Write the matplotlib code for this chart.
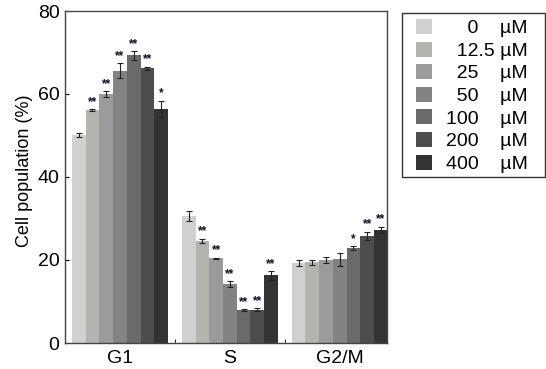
import matplotlib
matplotlib.use('Agg')
import matplotlib.pyplot as plt
from matplotlib.patches import Rectangle
import numpy as np

plt.rcParams['font.family'] = ['Liberation Sans', 'DejaVu Sans']

phases = ['G1', 'S', 'G2/M']
doses = ['0', '12.5', '25', '50', '100', '200', '400']
# padded so the numbers and the unit line up like the original legend
dose_labels = ['    0    \u00b5M', '  12.5 \u00b5M', '  25    \u00b5M', '  50    \u00b5M',
               '100    \u00b5M', '200    \u00b5M', '400    \u00b5M']
colors = ['#d0d0d0', '#b3b3b0', '#9b9b9b', '#838383', '#6a6a6a', '#4d4d4d', '#333333']

# rows = dose, columns = phase
means = [
    [50.2, 30.6, 19.3],
    [56.2, 24.6, 19.5],
    [60.0, 20.4, 20.0],
    [65.6, 14.2, 20.2],
    [69.3, 8.0, 22.8],
    [66.2, 8.0, 25.8],
    [56.4, 16.3, 27.3],
]
errs = [
    [0.5, 1.2, 0.8],
    [0.2, 0.5, 0.6],
    [0.7, 0.2, 0.7],
    [1.8, 0.7, 1.6],
    [1.0, 0.2, 0.5],
    [0.4, 0.4, 1.0],
    [2.0, 1.0, 0.7],
]
stars = [
    ['', '', ''],
    ['**', '**', ''],
    ['**', '**', ''],
    ['**', '**', ''],
    ['**', '**', '*'],
    ['**', '**', '**'],
    ['*', '**', '**'],
]

W, H = 546, 369
fig = plt.figure(figsize=(W / 100, H / 100), dpi=100)
ax = fig.add_axes([65 / W, 1 - 343 / H, 322 / W, 332 / H])

x = np.arange(len(phases))
w = 0.125
for i in range(len(doses)):
    pos = x + (i - 3) * w
    ax.bar(pos, means[i], w, color=colors[i], label=dose_labels[i],
           yerr=errs[i], capsize=2.2,
           error_kw=dict(ecolor='#222222', elinewidth=0.8, capthick=0.8))
    for j in range(len(phases)):
        if stars[i][j]:
            ax.text(pos[j], means[i][j] + errs[i][j] + 0.3, stars[i][j],
                    ha='center', va='bottom', fontsize=8.5, color='#10102a',
                    fontweight='bold')

ax.set_ylim(0, 80)
ax.set_xlim(-0.5, 2.43)
ax.set_yticks([0, 20, 40, 60, 80])
ax.set_xticks(x)
ax.set_xticklabels(phases, fontsize=14)
ax.set_xticks([0.5, 1.5], minor=True)
ax.tick_params(axis='x', which='major', length=0, pad=5)
ax.tick_params(axis='x', which='minor', direction='in', length=3)
ax.tick_params(axis='y', direction='in', length=3, labelsize=14, pad=4)
ax.set_ylabel('Cell population (%)', fontsize=13)
ax.yaxis.set_label_coords(-0.10, 0.52)
for s in ax.spines.values():
    s.set_color('#444444')
    s.set_linewidth(1.0)

leg = fig.legend(loc='upper left', bbox_to_anchor=(416 / W, 1 - 19 / H),
                 fontsize=14, frameon=False, borderpad=0, borderaxespad=0,
                 handlelength=0.82, handleheight=0.82, labelspacing=0.22,
                 handletextpad=0.72)
fig.patches.append(Rectangle((402 / W, 1 - 177 / H), 143 / W, 164 / H,
                             transform=fig.transFigure, fill=False,
                             edgecolor='#333333', linewidth=1.0))

fig.savefig('out.png', dpi=100)
plt.close(fig)
